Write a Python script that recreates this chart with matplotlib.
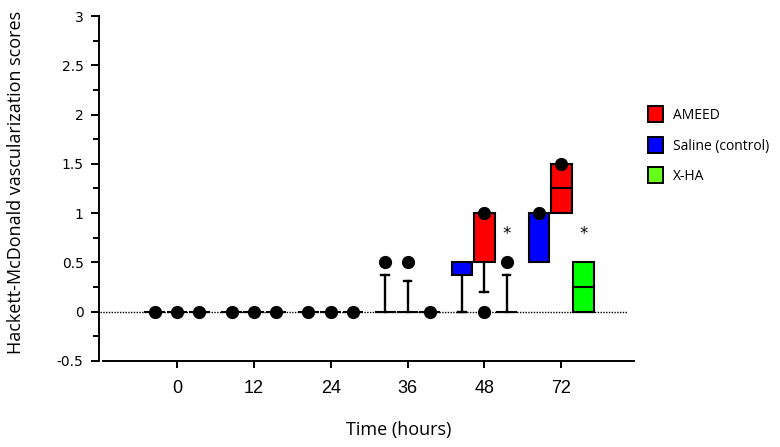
import numpy as np
import matplotlib.pyplot as plt
from matplotlib.patches import Rectangle, Patch

nan = np.nan

times = ['0', '12', '24', '36', '48', '72']

# order within each time group: Saline, AMEED, X-HA
saline_lo = [0, 0, 0, 0, 0.375, 0.5]
saline_hi = [0, 0, 0, 0, 0.5, 1.0]
saline_med = [nan, nan, nan, nan, nan, nan]
saline_whisk = [nan, nan, nan, 0.37, 0.0, nan]
saline_dots = [[0], [0], [0], [0.5], [], [1.0]]

ameed_lo = [0, 0, 0, 0, 0.5, 1.0]
ameed_hi = [0, 0, 0, 0, 1.0, 1.5]
ameed_med = [nan, nan, nan, nan, nan, 1.25]
ameed_whisk = [nan, nan, nan, 0.31, 0.2, nan]
ameed_dots = [[0], [0], [0], [0.5], [1.0, 0], [1.5]]

xha_lo = [0, 0, 0, 0, 0, 0]
xha_hi = [0, 0, 0, 0, 0, 0.5]
xha_med = [nan, nan, nan, nan, nan, 0.25]
xha_whisk = [nan, nan, nan, nan, 0.37, nan]
xha_dots = [[0], [0], [0], [0], [0.5], []]
xha_star = [nan, nan, nan, nan, 0.79, 0.79]

series = [
    ('Saline (control)', '#0000ff', -1, saline_lo, saline_hi, saline_med, saline_whisk, saline_dots),
    ('AMEED', '#ff0000', 0, ameed_lo, ameed_hi, ameed_med, ameed_whisk, ameed_dots),
    ('X-HA', '#00ff00', 1, xha_lo, xha_hi, xha_med, xha_whisk, xha_dots),
]

fig = plt.figure(figsize=(7.8, 4.47), dpi=100)
ax = fig.add_axes([0.132, 0.1924, 0.681, 0.7718])

x = np.arange(len(times))
off = 0.29
bw = 0.27
cap = 0.1

# dotted zero line
ax.plot([-1.0, 5.86], [0, 0], ls=(0, (1, 1)), color='black', lw=1, clip_on=False, zorder=1)

for name, col, k, lo, hi, med, wh, dots in series:
    for i in range(len(times)):
        xc = x[i] + k * off
        ax.add_patch(Rectangle((xc - bw / 2, lo[i]), bw, hi[i] - lo[i],
                               facecolor=col, edgecolor='black', lw=1.5, zorder=3))
        if not np.isnan(med[i]):
            ax.plot([xc - bw / 2, xc + bw / 2], [med[i], med[i]], color='black', lw=1.5, zorder=4)
        if not np.isnan(wh[i]):
            start = hi[i] if wh[i] > hi[i] else lo[i]
            ax.plot([xc, xc], [start, wh[i]], color='black', lw=1.7, zorder=2)
            ax.plot([xc - cap / 2, xc + cap / 2], [wh[i], wh[i]], color='black', lw=1.7, zorder=2)
        for d in dots[i]:
            ax.plot(xc, d, 'o', color='black', ms=8.5, zorder=5, clip_on=False)

for i in range(len(times)):
    if not np.isnan(xha_star[i]):
        ax.text(x[i] + off, xha_star[i], '*', ha='center', va='center', fontsize=12,
                family='DejaVu Sans')

ax.set_xlim(-0.964, 5.95)
ax.set_ylim(-0.5, 3)
ax.set_xticks(x)
ax.set_xticklabels(times, fontsize=13, family='Liberation Sans')
yt = [-0.5, 0, 0.5, 1, 1.5, 2, 2.5, 3]
ax.set_yticks(yt)
ax.set_yticklabels(['-0.5', '0', '0.5', '1', '1.5', '2', '2.5', '3'], fontsize=13, family='Open Sans')
ax.set_yticks(np.arange(-0.5, 3.01, 0.25), minor=True)

for s in ['top', 'right']:
    ax.spines[s].set_visible(False)
ax.spines['left'].set_position(('outward', 3))
ax.spines['left'].set_linewidth(1.4)
ax.spines['bottom'].set_linewidth(1.4)
ax.tick_params(axis='y', which='major', length=6, width=1.4, pad=5)
ax.tick_params(axis='y', which='minor', length=4, width=1.4)
ax.tick_params(axis='x', length=5, width=1.4, pad=9)

ax.set_ylabel('Hackett-McDonald vascularization scores', fontsize=13, family='Open Sans')
ax.yaxis.set_label_coords(-0.147, 0.519)
ax.set_xlabel('Time (hours)', fontsize=13, family='Open Sans')
ax.xaxis.set_label_coords(0.557, -0.175)

handles = [Patch(facecolor='#ff0000', edgecolor='black', lw=1.4),
           Patch(facecolor='#0000ff', edgecolor='black', lw=1.4),
           Patch(facecolor='#66ff1a', edgecolor='black', lw=1.4)]
fig.legend(handles, ['AMEED', 'Saline (control)', 'X-HA'], loc='upper left',
           bbox_to_anchor=(0.815, 0.79), frameon=False, handlelength=1.1, handleheight=1.4,
           labelspacing=1.0, handletextpad=0.7, prop={'family': 'Open Sans', 'size': 10})

fig.savefig('out.png', dpi=100)
